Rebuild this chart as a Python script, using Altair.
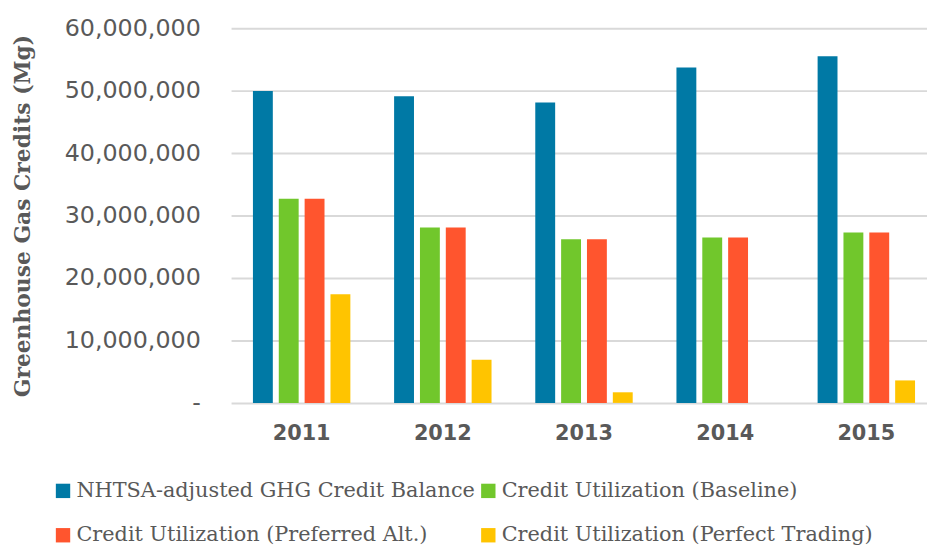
import altair as alt
import pandas as pd

years = ["2011", "2012", "2013", "2014", "2015"]
series = [
    "NHTSA-adjusted GHG Credit Balance",
    "Credit Utilization (Baseline)",
    "Credit Utilization (Preferred Alt.)",
    "Credit Utilization (Perfect Trading)",
]
colors = ["#0079A5", "#71C72C", "#FF552E", "#FFC400"]

balance = [49950000, 49100000, 48100000, 53700000, 55500000]
baseline = [32700000, 28100000, 26200000, 26500000, 27300000]
preferred = [32700000, 28100000, 26200000, 26500000, 27300000]
perfect = [17400000, 6900000, 1700000, 0, 3600000]

rows = []
for s, vals in zip(series, [balance, baseline, preferred, perfect]):
    for y, v in zip(years, vals):
        rows.append({"year": y, "series": s, "value": v})
df = pd.DataFrame(rows)

grey = "#595959"

chart = (
    alt.Chart(df)
    .mark_bar()
    .encode(
        x=alt.X(
            "year:N",
            sort=years,
            scale=alt.Scale(paddingInner=0.2676, paddingOuter=0.0987, align=0.678),
            axis=alt.Axis(
                title=None,
                domain=False,
                ticks=False,
                labelAngle=0,
                labelFont="DejaVu Sans",
                labelFontSize=21,
                labelFontWeight="bold",
                labelColor=grey,
                labelPadding=20,
            ),
        ),
        xOffset=alt.XOffset(
            "series:N",
            sort=series,
            scale=alt.Scale(paddingInner=0.2308, paddingOuter=0.1154),
        ),
        y=alt.Y(
            "value:Q",
            scale=alt.Scale(domain=[0, 60000000], nice=False),
            axis=alt.Axis(
                title="Greenhouse Gas Credits (Mg)",
                values=[0, 10000000, 20000000, 30000000, 40000000, 50000000, 60000000],
                labelExpr="datum.value == 0 ? '-' : format(datum.value, ',')",
                domain=False,
                ticks=False,
                tickSize=0,
                grid=True,
                gridColor="#D9D9D9",
                gridWidth=2,
                labelFont="DejaVu Sans",
                labelFontSize=24,
                labelColor=grey,
                labelPadding=31,
                titleFont="DejaVu Serif",
                titleFontWeight="bold",
                titleFontSize=22,
                titleColor=grey,
                titleAngle=-90,
                titleAlign="center",
                titleBaseline="middle",
                titleX=-210,
                titleY=189,
            ),
        ),
        color=alt.Color(
            "series:N",
            sort=series,
            scale=alt.Scale(domain=series, range=colors),
            legend=alt.Legend(
                title=None,
                orient="none",
                legendX=-180,
                legendY=456,
                direction="horizontal",
                columns=2,
                symbolType="square",
                symbolSize=210,
                symbolStrokeWidth=0,
                labelFont="DejaVu Serif",
                labelFontSize=21,
                labelColor=grey,
                labelLimit=600,
                labelOffset=3,
                columnPadding=2,
                rowPadding=23,
            ),
        ),
    )
    .properties(
        width=702,
        height=378,
        autosize=alt.AutoSizeParams(type="none"),
        padding={"left": 225, "top": 18, "right": 0, "bottom": 143},
    )
    .configure_view(stroke=None)
)

chart.save("out.html", embed_options={"renderer": "svg", "actions": False})
